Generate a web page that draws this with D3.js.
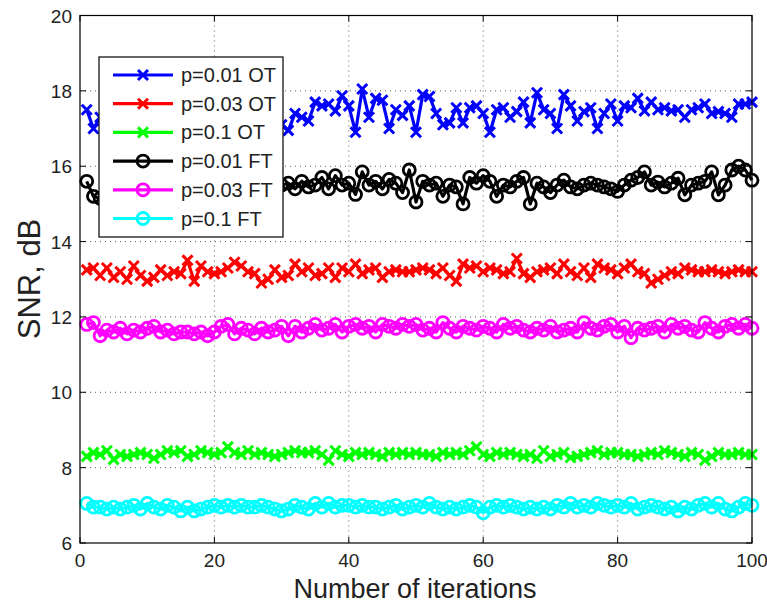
<!DOCTYPE html>
<html>
<head>
<meta charset="utf-8">
<script src="https://cdn.jsdelivr.net/npm/d3@7"></script>
<style>
  body { margin: 0; background: #fff; }
  text { font-family: "Liberation Sans", Arial, sans-serif; }
</style>
</head>
<body>
<div id="viz-container"></div>
<script>
// data (x = 1..100)
let seriesNames = ["p=0.01 OT", "p=0.03 OT", "p=0.1 OT", "p=0.01 FT", "p=0.03 FT", "p=0.1 FT"];
let seriesColors = ["#0000ff", "#ff0000", "#00ff00", "#000000", "#ff00ff", "#00ffff"];
let seriesMarkers = ["x", "x", "x", "o", "o", "o"];
let xTicks = [0, 20, 40, 60, 80, 100];
let yTicks = [6, 8, 10, 12, 14, 16, 18, 20];

let ot001 = [17.5, 17.0, 17.3, 17.1, 17.4, 17.6, 17.2, 17.5, 17.3, 17.7,
             17.4, 17.2, 17.6, 17.3, 17.5, 17.8, 17.2, 17.4, 17.6, 17.3,
             17.5, 17.2, 17.7, 17.4, 17.3, 17.6, 17.2, 17.5, 17.4, 17.1,
             16.95, 17.4, 17.3, 17.2, 17.7, 17.6, 17.65, 17.47, 17.87, 17.6,
             16.9, 18.05, 17.3, 17.8, 17.75, 17.0, 17.5, 17.35, 17.6, 16.9,
             17.9, 17.85, 17.4, 17.1, 17.15, 17.55, 17.15, 17.55, 17.6, 17.4,
             16.9, 17.5, 17.55, 17.3, 17.45, 17.7, 17.15, 17.95, 17.5, 17.4,
             17.0, 17.9, 17.6, 17.2, 17.45, 17.55, 17.0, 17.4, 17.65, 17.2,
             17.6, 17.55, 17.8, 17.47, 17.7, 17.5, 17.55, 17.47, 17.5, 17.3,
             17.5, 17.55, 17.65, 17.4, 17.45, 17.4, 17.3, 17.65, 17.65, 17.7];
let ot003 = [13.25, 13.3, 13.1, 13.3, 13.05, 13.2, 13.0, 13.35, 13.1, 12.95,
             13.05, 13.25, 13.1, 13.2, 13.15, 13.5, 12.95, 13.35, 13.2, 13.15,
             13.2, 13.3, 13.45, 13.35, 13.2, 13.15, 12.9, 13.0, 13.25, 13.05,
             13.1, 13.4, 13.2, 13.3, 13.1, 13.15, 13.3, 13.05, 13.3, 13.2,
             13.4, 13.15, 13.25, 13.3, 13.05, 13.2, 13.25, 13.2, 13.2, 13.25,
             13.3, 13.25, 13.15, 13.3, 13.1, 12.95, 13.4, 13.3, 13.35, 13.2,
             13.3, 13.25, 13.15, 13.2, 13.55, 13.15, 13.05, 13.2, 13.25, 13.3,
             13.15, 13.4, 13.2, 13.1, 13.3, 13.05, 13.4, 13.3, 13.25, 13.15,
             13.3, 13.4, 13.2, 13.15, 12.9, 13.0, 13.1, 13.2, 13.15, 13.3,
             13.25, 13.2, 13.2, 13.25, 13.2, 13.15, 13.2, 13.25, 13.2, 13.2];
let ot01 = [8.3, 8.4, 8.35, 8.45, 8.22, 8.35, 8.3, 8.35, 8.4, 8.35,
            8.25, 8.35, 8.45, 8.4, 8.45, 8.3, 8.35, 8.45, 8.4, 8.35,
            8.4, 8.55, 8.4, 8.35, 8.45, 8.35, 8.4, 8.35, 8.3, 8.35,
            8.4, 8.45, 8.4, 8.4, 8.45, 8.35, 8.2, 8.45, 8.35, 8.3,
            8.4, 8.35, 8.4, 8.35, 8.3, 8.4, 8.35, 8.4, 8.35, 8.4,
            8.35, 8.35, 8.3, 8.4, 8.35, 8.4, 8.35, 8.45, 8.55, 8.35,
            8.3, 8.4, 8.35, 8.4, 8.35, 8.3, 8.35, 8.25, 8.45, 8.3,
            8.35, 8.4, 8.27, 8.3, 8.35, 8.4, 8.45, 8.35, 8.4, 8.4,
            8.35, 8.35, 8.3, 8.35, 8.4, 8.35, 8.45, 8.4, 8.35, 8.3,
            8.4, 8.35, 8.2, 8.3, 8.4, 8.35, 8.35, 8.4, 8.35, 8.35];
let ft001 = [15.6, 15.2, 15.15, 15.4, 15.5, 15.3, 15.6, 15.45, 15.5, 15.35,
             15.55, 15.4, 15.6, 15.5, 15.3, 15.55, 15.45, 15.6, 15.4, 15.5,
             15.35, 15.6, 15.5, 15.45, 15.55, 15.4, 15.6, 15.5, 15.4, 15.5,
             15.55, 15.4, 15.6, 15.45, 15.5, 15.7, 15.4, 15.75, 15.5, 15.55,
             15.25, 15.85, 15.5, 15.6, 15.4, 15.65, 15.55, 15.3, 15.9, 15.05,
             15.6, 15.5, 15.55, 15.2, 15.5, 15.45, 15.0, 15.7, 15.55, 15.75,
             15.6, 15.2, 15.5, 15.45, 15.6, 15.7, 15.0, 15.55, 15.45, 15.3,
             15.5, 15.63, 15.45, 15.4, 15.5, 15.55, 15.5, 15.45, 15.4, 15.33,
             15.5, 15.63, 15.7, 15.85, 15.5, 15.58, 15.45, 15.55, 15.68, 15.24,
             15.5, 15.55, 15.6, 15.85, 15.24, 15.5, 15.9, 16.0, 15.9, 15.63];
let ft003 = [11.8, 11.85, 11.5, 11.65, 11.6, 11.7, 11.55, 11.65, 11.6, 11.7,
             11.75, 11.6, 11.65, 11.55, 11.6, 11.6, 11.55, 11.6, 11.5, 11.6,
             11.75, 11.8, 11.55, 11.7, 11.65, 11.55, 11.7, 11.6, 11.65, 11.75,
             11.5, 11.75, 11.6, 11.7, 11.8, 11.65, 11.7, 11.8, 11.6, 11.75,
             11.8, 11.7, 11.75, 11.6, 11.8, 11.75, 11.7, 11.8, 11.75, 11.8,
             11.65, 11.7, 11.6, 11.85, 11.7, 11.6, 11.75, 11.7, 11.65, 11.75,
             11.7, 11.6, 11.8, 11.7, 11.75, 11.65, 11.6, 11.7, 11.65, 11.75,
             11.6, 11.65, 11.7, 11.6, 11.85, 11.7, 11.65, 11.75, 11.8, 11.6,
             11.75, 11.45, 11.7, 11.65, 11.7, 11.75, 11.6, 11.8, 11.7, 11.75,
             11.65, 11.6, 11.85, 11.7, 11.6, 11.75, 11.8, 11.7, 11.8, 11.7];
let ft01 = [7.05, 6.95, 6.95, 6.9, 6.95, 6.9, 6.95, 7.0, 6.9, 7.05,
            6.95, 6.9, 7.0, 6.95, 6.85, 6.95, 6.85, 6.9, 6.95, 7.0,
            6.95, 7.0, 6.95, 7.0, 6.95, 6.95, 7.0, 6.95, 6.9, 6.85,
            6.9, 7.0, 6.95, 6.9, 7.05, 6.95, 7.05, 6.95, 7.0, 7.0,
            6.95, 7.0, 6.95, 6.95, 6.9, 6.95, 7.0, 6.9, 6.95, 7.0,
            6.95, 7.05, 6.95, 6.9, 6.95, 6.9, 6.95, 7.0, 6.95, 6.8,
            6.95, 7.0, 6.95, 7.0, 6.95, 6.9, 6.95, 6.9, 6.95, 6.9,
            7.0, 6.95, 7.05, 6.95, 7.0, 6.95, 7.05, 7.0, 6.95, 7.0,
            6.95, 7.05, 6.9, 6.95, 7.0, 6.95, 6.9, 6.95, 6.85, 6.95,
            6.9, 7.0, 7.05, 6.95, 7.05, 6.9, 6.85, 6.95, 7.05, 7.0];
let seriesValues = [ot001, ot003, ot01, ft001, ft003, ft01];

let w = 767, h = 606;
let plotL = 80, plotR = 752, plotT = 15.5, plotB = 543;

let viz = d3.select("#viz-container")
              .append("svg")
                  .attr("width", w)
                  .attr("height", h)
;

let x = d3.scaleLinear().domain([0, 100]).range([plotL, plotR]);
let y = d3.scaleLinear().domain([6, 20]).range([plotB, plotT]);

// dotted grid
let grid = viz.append("g");
grid.selectAll(".gx").data(xTicks.slice(1, -1)).enter().append("line")
    .attr("x1", d => x(d)).attr("x2", d => x(d))
    .attr("y1", plotT).attr("y2", plotB)
    .attr("stroke", "#333").attr("stroke-width", 0.8)
    .attr("stroke-dasharray", "1,4")
;
grid.selectAll(".gy").data(yTicks.slice(1, -1)).enter().append("line")
    .attr("x1", plotL).attr("x2", plotR)
    .attr("y1", d => y(d)).attr("y2", d => y(d))
    .attr("stroke", "#333").attr("stroke-width", 0.8)
    .attr("stroke-dasharray", "1,4")
;

// series
let line = d3.line().x((d, i) => x(i + 1)).y(d => y(d));
let xMark = "M-5,-5L5,5M-5,5L5,-5";

seriesValues.forEach(function(vals, k) {
    let g = viz.append("g");
    g.append("path")
        .attr("d", line(vals))
        .attr("fill", "none")
        .attr("stroke", seriesColors[k])
        .attr("stroke-width", 3.2)
        .attr("stroke-linejoin", "round")
    ;
    if (seriesMarkers[k] == "x") {
        g.selectAll("path.m").data(vals).enter().append("path")
            .attr("class", "m")
            .attr("transform", (d, i) => "translate(" + x(i + 1) + "," + y(d) + ")")
            .attr("d", xMark)
            .attr("stroke", seriesColors[k])
            .attr("stroke-width", 3)
        ;
    } else {
        g.selectAll("circle").data(vals).enter().append("circle")
            .attr("cx", (d, i) => x(i + 1))
            .attr("cy", d => y(d))
            .attr("r", 6)
            .attr("fill", "none")
            .attr("stroke", seriesColors[k])
            .attr("stroke-width", 2.8)
        ;
    }
});

// axes box with inner ticks
let axisG = viz.append("g");
axisG.append("rect")
    .attr("x", plotL).attr("y", plotT)
    .attr("width", plotR - plotL).attr("height", plotB - plotT)
    .attr("fill", "none").attr("stroke", "#000").attr("stroke-width", 1.2)
;
axisG.selectAll(".tb").data(xTicks).enter().append("path")
    .attr("d", d => "M" + x(d) + "," + plotB + "v-6M" + x(d) + "," + plotT + "v6")
    .attr("stroke", "#000")
;
axisG.selectAll(".tl").data(yTicks).enter().append("path")
    .attr("d", d => "M" + plotL + "," + y(d) + "h6M" + plotR + "," + y(d) + "h-6")
    .attr("stroke", "#000")
;

axisG.selectAll(".xl").data(xTicks).enter().append("text")
    .attr("x", d => x(d))
    .attr("y", 567)
    .attr("text-anchor", "middle")
    .attr("font-size", 19)
    .attr("fill", "#222")
    .text(d => d)
;
axisG.selectAll(".yl").data(yTicks).enter().append("text")
    .attr("x", 72)
    .attr("y", d => y(d) + 7)
    .attr("text-anchor", "end")
    .attr("font-size", 19)
    .attr("fill", "#222")
    .text(d => d)
;

viz.append("text")
    .attr("x", 415)
    .attr("y", 598)
    .attr("text-anchor", "middle")
    .attr("font-size", 27)
    .attr("fill", "#222")
    .text("Number of iterations")
;
viz.append("text")
    .attr("transform", "translate(40,279) rotate(-90)")
    .attr("text-anchor", "middle")
    .attr("font-size", 31)
    .attr("fill", "#222")
    .text("SNR, dB")
;

// legend
let legend = viz.append("g");
legend.append("rect")
    .attr("x", 99).attr("y", 57)
    .attr("width", 184).attr("height", 180)
    .attr("fill", "#fff").attr("stroke", "#000").attr("stroke-width", 1.2)
;
let rows = legend.selectAll(".row").data(seriesNames).enter().append("g")
    .attr("transform", (d, i) => "translate(0," + (75 + i * 28.7) + ")")
;
rows.append("line")
    .attr("x1", 113).attr("x2", 173)
    .attr("stroke", (d, i) => seriesColors[i])
    .attr("stroke-width", 3.2)
;
rows.filter((d, i) => seriesMarkers[i] == "x").append("path")
    .attr("transform", "translate(143,0)")
    .attr("d", xMark)
    .attr("stroke", d => seriesColors[seriesNames.indexOf(d)])
    .attr("stroke-width", 3)
;
rows.filter((d, i) => seriesMarkers[i] == "o").append("circle")
    .attr("cx", 143).attr("r", 6)
    .attr("fill", "none")
    .attr("stroke", d => seriesColors[seriesNames.indexOf(d)])
    .attr("stroke-width", 2.8)
;
rows.append("text")
    .attr("x", 181).attr("y", 7)
    .attr("font-size", 20)
    .attr("fill", "#222")
    .text(d => d)
;
</script>
</body>
</html>
